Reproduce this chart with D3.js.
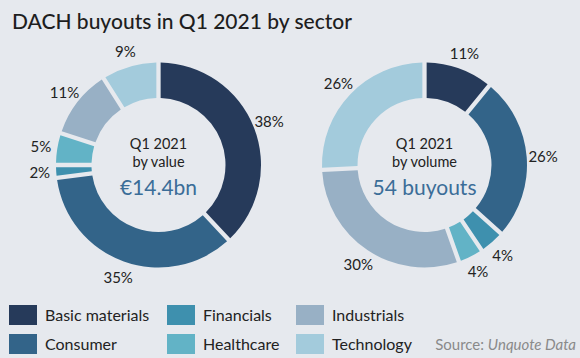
<!DOCTYPE html>
<html><head><meta charset="utf-8">
<script src="https://cdn.jsdelivr.net/npm/d3@7"></script>
<style>
html,body{margin:0;padding:0;background:#e6e9ee;}
svg{display:block;font-family:Lato, "Open Sans", sans-serif;}
</style></head>
<body>
<svg id="c" width="580" height="358"></svg>
<script>
const sectors = ["Basic materials","Consumer","Financials","Healthcare","Industrials","Technology"];
const colors = ["#263a5a","#336489","#3e90ae","#62b3c6","#98b0c5","#a3cbdc"];
const valueShare = [38,35,2,5,11,9];
const volumeShare = [11,26,4,4,30,26];
const donuts = [
  {values: valueShare, line1:"Q1 2021", line2:"by value", total:"€14.4bn", cx:158.5},
  {values: volumeShare, line1:"Q1 2021", line2:"by volume", total:"54 buyouts", cx:424.5}
];
const svg = d3.select("#c");
svg.append("rect").attr("width",580).attr("height",358).attr("fill","#e6e9ee");
svg.append("text").attr("x",12).attr("y",29).attr("font-size",21).attr("font-weight",500)
  .attr("fill","#1e1e1e").text("DACH buyouts in Q1 2021 by sector");

const cy = 165, rOut = 102.5, rIn = 67, rLab = 119;
const pie = d3.pie().sort(null).value(d=>d);
const arc = d3.arc().innerRadius(rIn).outerRadius(rOut).padAngle(0.035);
const labArc = d3.arc().innerRadius(rLab).outerRadius(rLab);
const color = d3.scaleOrdinal().domain(d3.range(sectors.length)).range(colors);

donuts.forEach(dn=>{
  const g = svg.append("g").attr("transform",`translate(${dn.cx},${cy})`);
  const arcs = pie(dn.values);
  g.selectAll("path").data(arcs).join("path").attr("d",arc).attr("fill",(d,i)=>color(i));
  g.selectAll("text.lab").data(arcs).join("text").attr("class","lab")
    .attr("transform",d=>`translate(${labArc.centroid(d)})`)
    .attr("text-anchor","middle").attr("dominant-baseline","central")
    .attr("font-size",15).attr("fill","#222").text(d=>d.data+"%");
  g.append("text").attr("text-anchor","middle").attr("y",-16).attr("font-size",14.5).attr("fill","#222").text(dn.line1);
  g.append("text").attr("text-anchor","middle").attr("y",2).attr("font-size",14.5).attr("fill","#222").text(dn.line2);
  g.append("text").attr("text-anchor","middle").attr("y",30).attr("font-size",21).attr("fill","#3b6d98").text(dn.total);
});

const lx = [9,167,296], ly = [305,334];
const leg = svg.append("g");
sectors.forEach((s,i)=>{
  const col = Math.floor(i/2), row = i%2;
  leg.append("rect").attr("x",lx[col]).attr("y",ly[row]).attr("width",28).attr("height",20).attr("fill",color(i));
  leg.append("text").attr("x",lx[col]+36).attr("y",ly[row]+16).attr("font-size",16).attr("fill","#222").text(s);
});
const src = svg.append("text").attr("x",576).attr("y",350).attr("text-anchor","end").attr("font-size",15).attr("fill","#8a8a8a");
src.append("tspan").text("Source: ");
src.append("tspan").attr("font-style","italic").text("Unquote Data");
</script>
</body></html>
